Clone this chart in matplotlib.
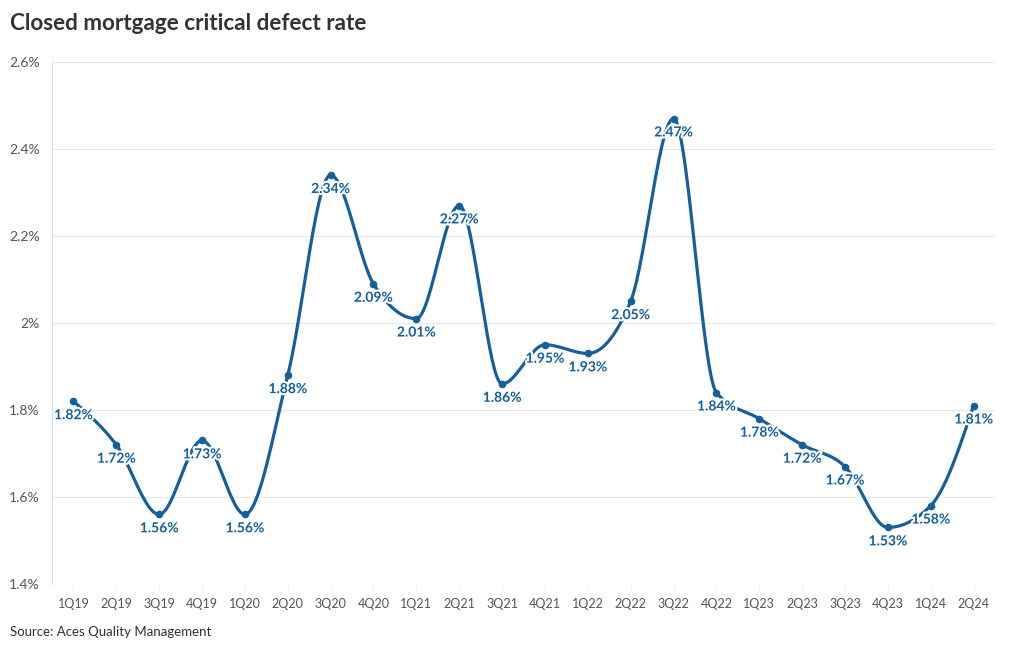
import numpy as np
import matplotlib.pyplot as plt
import matplotlib.patheffects as pe

quarters = ['1Q19', '2Q19', '3Q19', '4Q19', '1Q20', '2Q20', '3Q20', '4Q20',
            '1Q21', '2Q21', '3Q21', '4Q21', '1Q22', '2Q22', '3Q22', '4Q22',
            '1Q23', '2Q23', '3Q23', '4Q23', '1Q24', '2Q24']
defect_rate = [1.82, 1.72, 1.56, 1.73, 1.56, 1.88, 2.34, 2.09, 2.01, 2.27, 1.86,
               1.95, 1.93, 2.05, 2.47, 1.84, 1.78, 1.72, 1.67, 1.53, 1.58, 1.81]
yticks = [1.4, 1.6, 1.8, 2.0, 2.2, 2.4, 2.6]
ytick_labels = ['1.4%', '1.6%', '1.8%', '2%', '2.2%', '2.4%', '2.6%']

BLUE = '#155f9c'
plt.rcParams['font.family'] = ['Lato', 'DejaVu Sans']


def monotone_x(x, y, n=30):
    # same idea as d3.curveMonotoneX, just for drawing the smooth line
    x = np.asarray(x, float)
    y = np.asarray(y, float)
    h = np.diff(x)
    s = np.diff(y) / h
    t = np.zeros(len(x))
    for i in range(1, len(x) - 1):
        p = (s[i-1] * h[i] + s[i] * h[i-1]) / (h[i-1] + h[i])
        t[i] = (np.sign(s[i-1]) + np.sign(s[i])) * min(abs(s[i-1]), abs(s[i]), 0.5 * abs(p))
    t[0] = (3 * s[0] - t[1]) / 2
    t[-1] = (3 * s[-1] - t[-2]) / 2
    xs, ys = [], []
    u = np.linspace(0, 1, n)
    for i in range(len(x) - 1):
        dx = h[i] / 3
        p0 = (x[i], y[i])
        p1 = (x[i] + dx, y[i] + dx * t[i])
        p2 = (x[i+1] - dx, y[i+1] - dx * t[i+1])
        p3 = (x[i+1], y[i+1])
        b = [(1-u)**3, 3*(1-u)**2*u, 3*(1-u)*u**2, u**3]
        xs.extend(b[0]*p0[0] + b[1]*p1[0] + b[2]*p2[0] + b[3]*p3[0])
        ys.extend(b[0]*p0[1] + b[1]*p1[1] + b[2]*p2[1] + b[3]*p3[1])
    return np.array(xs), np.array(ys)


fig = plt.figure(figsize=(10.2, 6.5), dpi=100)
ax = fig.add_axes([52/1020, 66/650, 943/1020, 522/650])

xpos = np.arange(len(quarters))
cx, cy = monotone_x(xpos, defect_rate)
ax.plot(cx, cy, color=BLUE, lw=2.3, solid_capstyle='round', zorder=3)
ax.scatter(xpos, defect_rate, s=30, color=BLUE, zorder=4, linewidths=0)

for xi, v in zip(xpos, defect_rate):
    ax.annotate(f'{v:.2f}%', (xi, v), xytext=(0, -10), textcoords='offset points',
                ha='center', va='center', fontsize=10, fontweight='bold', color=BLUE,
                zorder=5, path_effects=[pe.withStroke(linewidth=3, foreground='white')])

ax.set_xlim(-0.5, len(quarters) - 0.5)
ax.set_ylim(1.4, 2.6)
ax.set_xticks(xpos)
ax.set_xticklabels(quarters)
ax.set_yticks(yticks)
ax.set_yticklabels(ytick_labels)
ax.tick_params(axis='x', length=4, color='#ececec', width=0.8, pad=6,
               labelsize=9, labelcolor='#555555')
ax.tick_params(axis='y', length=0, pad=9, labelsize=10, labelcolor='#555555')
ax.grid(axis='y', color='#e8e8e8', lw=0.8)
for sp in ['top', 'right', 'bottom']:
    ax.spines[sp].set_visible(False)
ax.spines['left'].set_color('#e0e0e0')
ax.spines['left'].set_linewidth(0.8)

fig.text(10/1020, 1 - 24/650, 'Closed mortgage critical defect rate', fontsize=16.2,
         fontweight='bold', color='#333333', va='center', ha='left')
fig.text(10/1020, 1 - 632/650, 'Source: Aces Quality Management', fontsize=9.5,
         color='#333333', va='center', ha='left')

fig.savefig('out.png', dpi=100)
